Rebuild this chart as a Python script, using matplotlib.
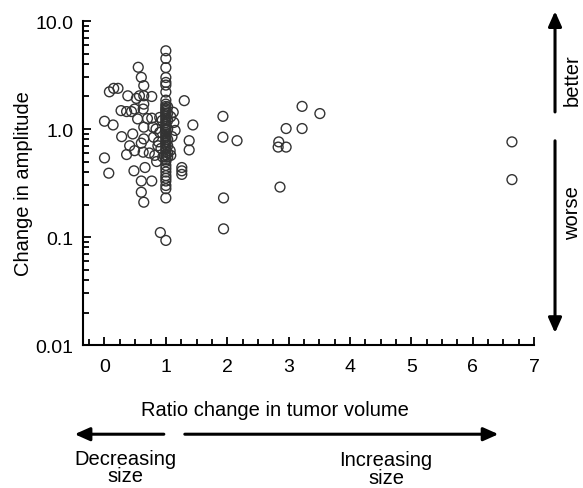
import matplotlib.pyplot as plt
from matplotlib.ticker import FixedLocator, MultipleLocator, LogLocator, NullFormatter

plt.rcParams['font.family'] = ['Liberation Sans', 'DejaVu Sans']

# scattered points (ratio change in tumor volume, change in amplitude)
scatter_x = [0.00, 0.14, 0.00, 0.07, 0.08, 0.15, 0.22, 0.28, 0.27, 0.36,
             0.38, 0.44, 0.46, 0.36, 0.41, 0.49, 0.48, 0.52, 0.49, 0.54,
             0.55, 0.60, 0.64, 0.57, 0.64, 0.77, 0.64, 0.63, 0.64, 0.60,
             0.63, 0.66, 0.60, 0.77, 0.60, 0.64, 0.64, 0.77, 0.79, 0.73,
             0.82, 0.85, 0.80, 0.87, 0.90, 0.90, 1.12, 1.15, 1.13, 1.30,
             1.44, 1.38, 1.38, 1.26, 1.26, 1.26, 1.07, 1.08, 0.91, 0.94,
             0.84, 0.88, 0.92, 0.70, 0.95, 1.10, 1.08,
             1.93, 1.93, 2.16, 1.94, 1.94,
             2.84, 2.83, 2.96, 2.96, 2.86, 3.22, 3.51, 3.22,
             6.64, 6.64]
scatter_y = [1.18, 1.09, 0.54, 0.39, 2.21, 2.38, 2.38, 0.85, 1.48, 1.45,
             2.03, 1.45, 0.90, 0.58, 0.70, 0.63, 0.41, 1.92, 1.53, 1.24,
             3.73, 3.01, 2.52, 2.03, 2.03, 2.00, 1.70, 1.53, 0.81, 0.74,
             0.61, 0.44, 0.33, 0.33, 0.26, 0.21, 1.04, 1.26, 1.04, 0.60,
             0.57, 0.50, 0.84, 0.70, 0.93, 1.28, 1.43, 0.97, 1.15, 1.83,
             1.09, 0.78, 0.64, 0.44, 0.41, 0.38, 0.63, 0.57, 0.11, 1.20,
             1.00, 0.76, 0.66, 1.25, 0.55, 0.85, 1.30,
             1.31, 0.84, 0.78, 0.23, 0.119,
             0.76, 0.68, 0.68, 1.01, 0.29, 1.62, 1.39, 1.01,
             0.76, 0.34]

# the dense column of tumors with unchanged volume (ratio ~1)
column_x = [1.0] * 48 + [1.03] * 8
column_y = [5.3, 4.5, 3.7, 3.0, 2.7, 2.55, 2.2, 1.85, 1.7, 1.62,
            1.55, 1.5, 1.45, 1.4, 1.35, 1.3, 1.25, 1.2, 1.15, 1.1,
            1.05, 1.0, 0.97, 0.93, 0.9, 0.87, 0.84, 0.8, 0.77, 0.74,
            0.71, 0.68, 0.65, 0.62, 0.58, 0.55, 0.52, 0.5, 0.46, 0.43,
            0.4, 0.37, 0.35, 0.33, 0.3, 0.28, 0.23, 0.093,
            1.6, 1.4, 1.2, 1.0, 0.8, 0.7, 0.6, 0.55]

fig = plt.figure(figsize=(5.83, 4.89), dpi=100)
ax = fig.add_axes([0.1424, 0.2924, 0.7736, 0.6626])

ax.scatter(scatter_x + column_x, scatter_y + column_y, s=50, facecolors='none',
           edgecolors='#333333', linewidths=1.0, zorder=3, clip_on=False)

ax.set_yscale('log')
ax.set_ylim(0.01, 10)
ax.set_xlim(-0.35, 7.0)

ax.yaxis.set_major_locator(FixedLocator([0.01, 0.1, 1, 10]))
ax.set_yticklabels(['0.01', '0.1', '1.0', '10.0'])
ax.yaxis.set_minor_locator(LogLocator(base=10, subs=range(2, 10)))
ax.yaxis.set_minor_formatter(NullFormatter())
ax.xaxis.set_major_locator(MultipleLocator(1))
ax.xaxis.set_minor_locator(MultipleLocator(0.25))

ax.tick_params(axis='both', which='major', direction='in', length=6, width=1.3,
               labelsize=14, pad=9)
ax.tick_params(axis='both', which='minor', direction='in', length=4, width=1.3)
ax.tick_params(axis='y', pad=7)

for side in ['top', 'right']:
    ax.spines[side].set_visible(False)
for side in ['left', 'bottom']:
    ax.spines[side].set_linewidth(1.5)

ax.set_ylabel('Change in amplitude', fontsize=14.5, labelpad=2)

# annotations outside the axes
fig.text(0.472, 0.161, 'Ratio change in tumor volume', fontsize=14.5,
         ha='center', va='center')
arrow = dict(arrowstyle='-|>,head_width=0.4,head_length=0.9', lw=2.2, color='black',
             shrinkA=0, shrinkB=0)
fig.add_artist(plt.Annotation('', xy=(0.128, 0.110), xytext=(0.281, 0.110),
                              xycoords='figure fraction', arrowprops=arrow))
fig.add_artist(plt.Annotation('', xy=(0.855, 0.110), xytext=(0.317, 0.110),
                              xycoords='figure fraction', arrowprops=arrow))
fig.text(0.215, 0.043, 'Decreasing\nsize', fontsize=14.5, ha='center', va='center',
         linespacing=0.9)
fig.text(0.662, 0.040, 'Increasing\nsize', fontsize=14.5, ha='center', va='center',
         linespacing=0.9)

fig.add_artist(plt.Annotation('', xy=(0.952, 0.975), xytext=(0.952, 0.769),
                              xycoords='figure fraction', arrowprops=arrow))
fig.add_artist(plt.Annotation('', xy=(0.952, 0.317), xytext=(0.952, 0.710),
                              xycoords='figure fraction', arrowprops=arrow))
fig.text(0.982, 0.836, 'better', fontsize=14.5, rotation=90, ha='center', va='center')
fig.text(0.982, 0.564, 'worse', fontsize=14.5, rotation=90, ha='center', va='center')

plt.savefig('out.png', dpi=100)
plt.close()
